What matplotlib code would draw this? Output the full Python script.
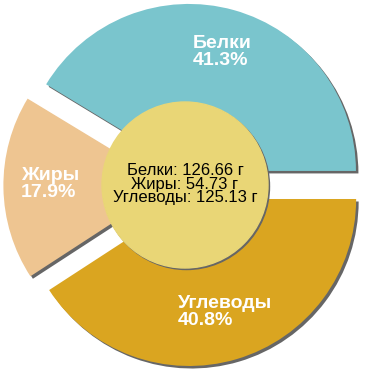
import matplotlib
matplotlib.use('Agg')
import matplotlib.pyplot as plt
from matplotlib.patches import Circle

plt.rcParams['font.family'] = ['Liberation Sans', 'DejaVu Sans']

labels = ['Белки', 'Жиры', 'Углеводы']
grams = [126.66, 54.73, 125.13]
percents = [41.3, 17.9, 40.8]
colors = ['#7AC5CD', '#EEC591', '#DAA520']

# layout, in pixels (y up)
cx, cy = 185, 185
radius = 167
explode = [14.6] * 3
label_pos = [(193, 318), (21, 186), (178, 58)]

fig = plt.figure(figsize=(3.7, 3.7), dpi=100)
ax = fig.add_axes([0, 0, 1, 1])

# shadow
ax.pie(grams, colors=['#666666'] * 3, explode=explode, radius=radius,
       center=(cx + 2.5, cy - 2.5), startangle=0, frame=True)
ax.pie(grams, colors=colors, explode=explode, radius=radius,
       center=(cx, cy), startangle=0, frame=True)
ax.set_xlim(0, 370)
ax.set_ylim(0, 370)
ax.set_aspect('equal')
ax.axis('off')

ax.add_patch(Circle((cx + 1.5, cy - 1.5), 83, color='#666666', zorder=3))
ax.add_patch(Circle((cx, cy), 83, color='#E9D676', zorder=4))

for (x, y), name, p in zip(label_pos, labels, percents):
    ax.text(x, y, f'{name}\n{p}%', color='white', fontsize=14,
            fontweight='bold', ha='left', va='center', linespacing=0.95,
            zorder=5)

center_text = '\n'.join(f'{n}: {g} г' for n, g in zip(labels, grams))
ax.text(cx, 186, center_text, fontsize=12, ha='center', va='center',
        linespacing=0.9, zorder=5)

fig.savefig('out.png', dpi=100)
